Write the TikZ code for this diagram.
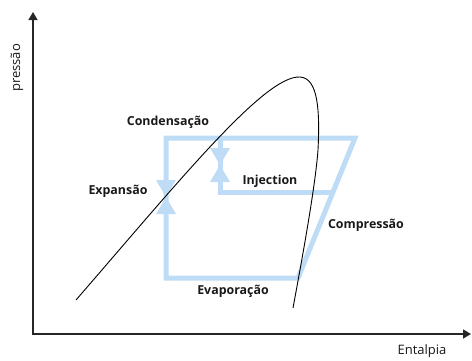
\documentclass[tikz,border=0pt]{standalone}
\usepackage{fontspec}
\setmainfont{Open Sans}
\usetikzlibrary{arrows.meta, calc}
\definecolor{cyclblue}{RGB}{190,220,245}
\tikzset{
  axisline/.style={-{Triangle[length=8pt, width=9pt]}, line width=1.4pt, color=black!85},
  axislabel/.style={font=\fontsize{13}{15}\selectfont, text=black!90, inner sep=0pt},
  satcurve/.style={line width=0.9pt, color=black},
  cycleline/.style={line width=5pt, color=cyclblue, line join=miter},
  steplabel/.style={font=\fontsize{12.4}{14}\selectfont\bfseries, text=black!90, inner sep=0pt},
}
% expansion valve: two triangles meeting at the apex
\newcommand{\valvemark}[1]{%
  \fill[cyclblue] ($(#1)+(-10,-17)$) -- ($(#1)+(10,-17)$) -- (#1) -- cycle;
  \fill[cyclblue] ($(#1)+(-10,17)$) -- ($(#1)+(10,17)$) -- (#1) -- cycle;
}

\begin{document}
\begin{tikzpicture}[x=1pt, y=-1pt]
  \useasboundingbox (0,0) rectangle (472,360);

  % axes
  \coordinate (origin) at (33,334);
  \coordinate (ytop)   at (33,12);
  \coordinate (xend)   at (471,334);
  \draw[axisline] (origin) -- (ytop);
  \draw[axisline] ([xshift=-0.7pt]origin) -- (xend);
  \node[axislabel, rotate=90] (plabel) at (17,68)  {pressão};
  \node[axislabel]            (hlabel) at (422,351) {Entalpia};

  % cycle
  \coordinate (topleft)  at (166,138);
  \coordinate (topright) at (355,138);
  \coordinate (botright) at (298,278);
  \coordinate (botleft)  at (166,278);
  \coordinate (injtop)   at (220,138);
  \coordinate (injcorn)  at (220,192);
  \coordinate (injjoin)  at (332,192);
  \draw[cycleline] (botleft) -- (topleft) -- (topright) -- (botright) -- cycle;
  \draw[cycleline] (injtop) -- (injcorn) -- (injjoin);

  % valves
  \coordinate (expvalve) at (166,197);
  \coordinate (injvalve) at (220,165);
  \valvemark{expvalve}
  \valvemark{injvalve}

  % saturation dome
  \draw[satcurve] (76,300) .. controls (180,180) and (265,75) .. (300,77)
    .. controls (318,78) and (320,110) .. (318,150)
    .. controls (315,190) and (300,270) .. (293,308);

  % labels
  \node[steplabel] (cond)  at (168,122) {Condensação};
  \node[steplabel] (expa)  at (118,191) {Expansão};
  \node[steplabel] (inj)   at (270,181) {Injection};
  \node[steplabel] (comp)  at (366,225) {Compressão};
  \node[steplabel] (evap)  at (233,291) {Evaporação};
\end{tikzpicture}
\end{document}
